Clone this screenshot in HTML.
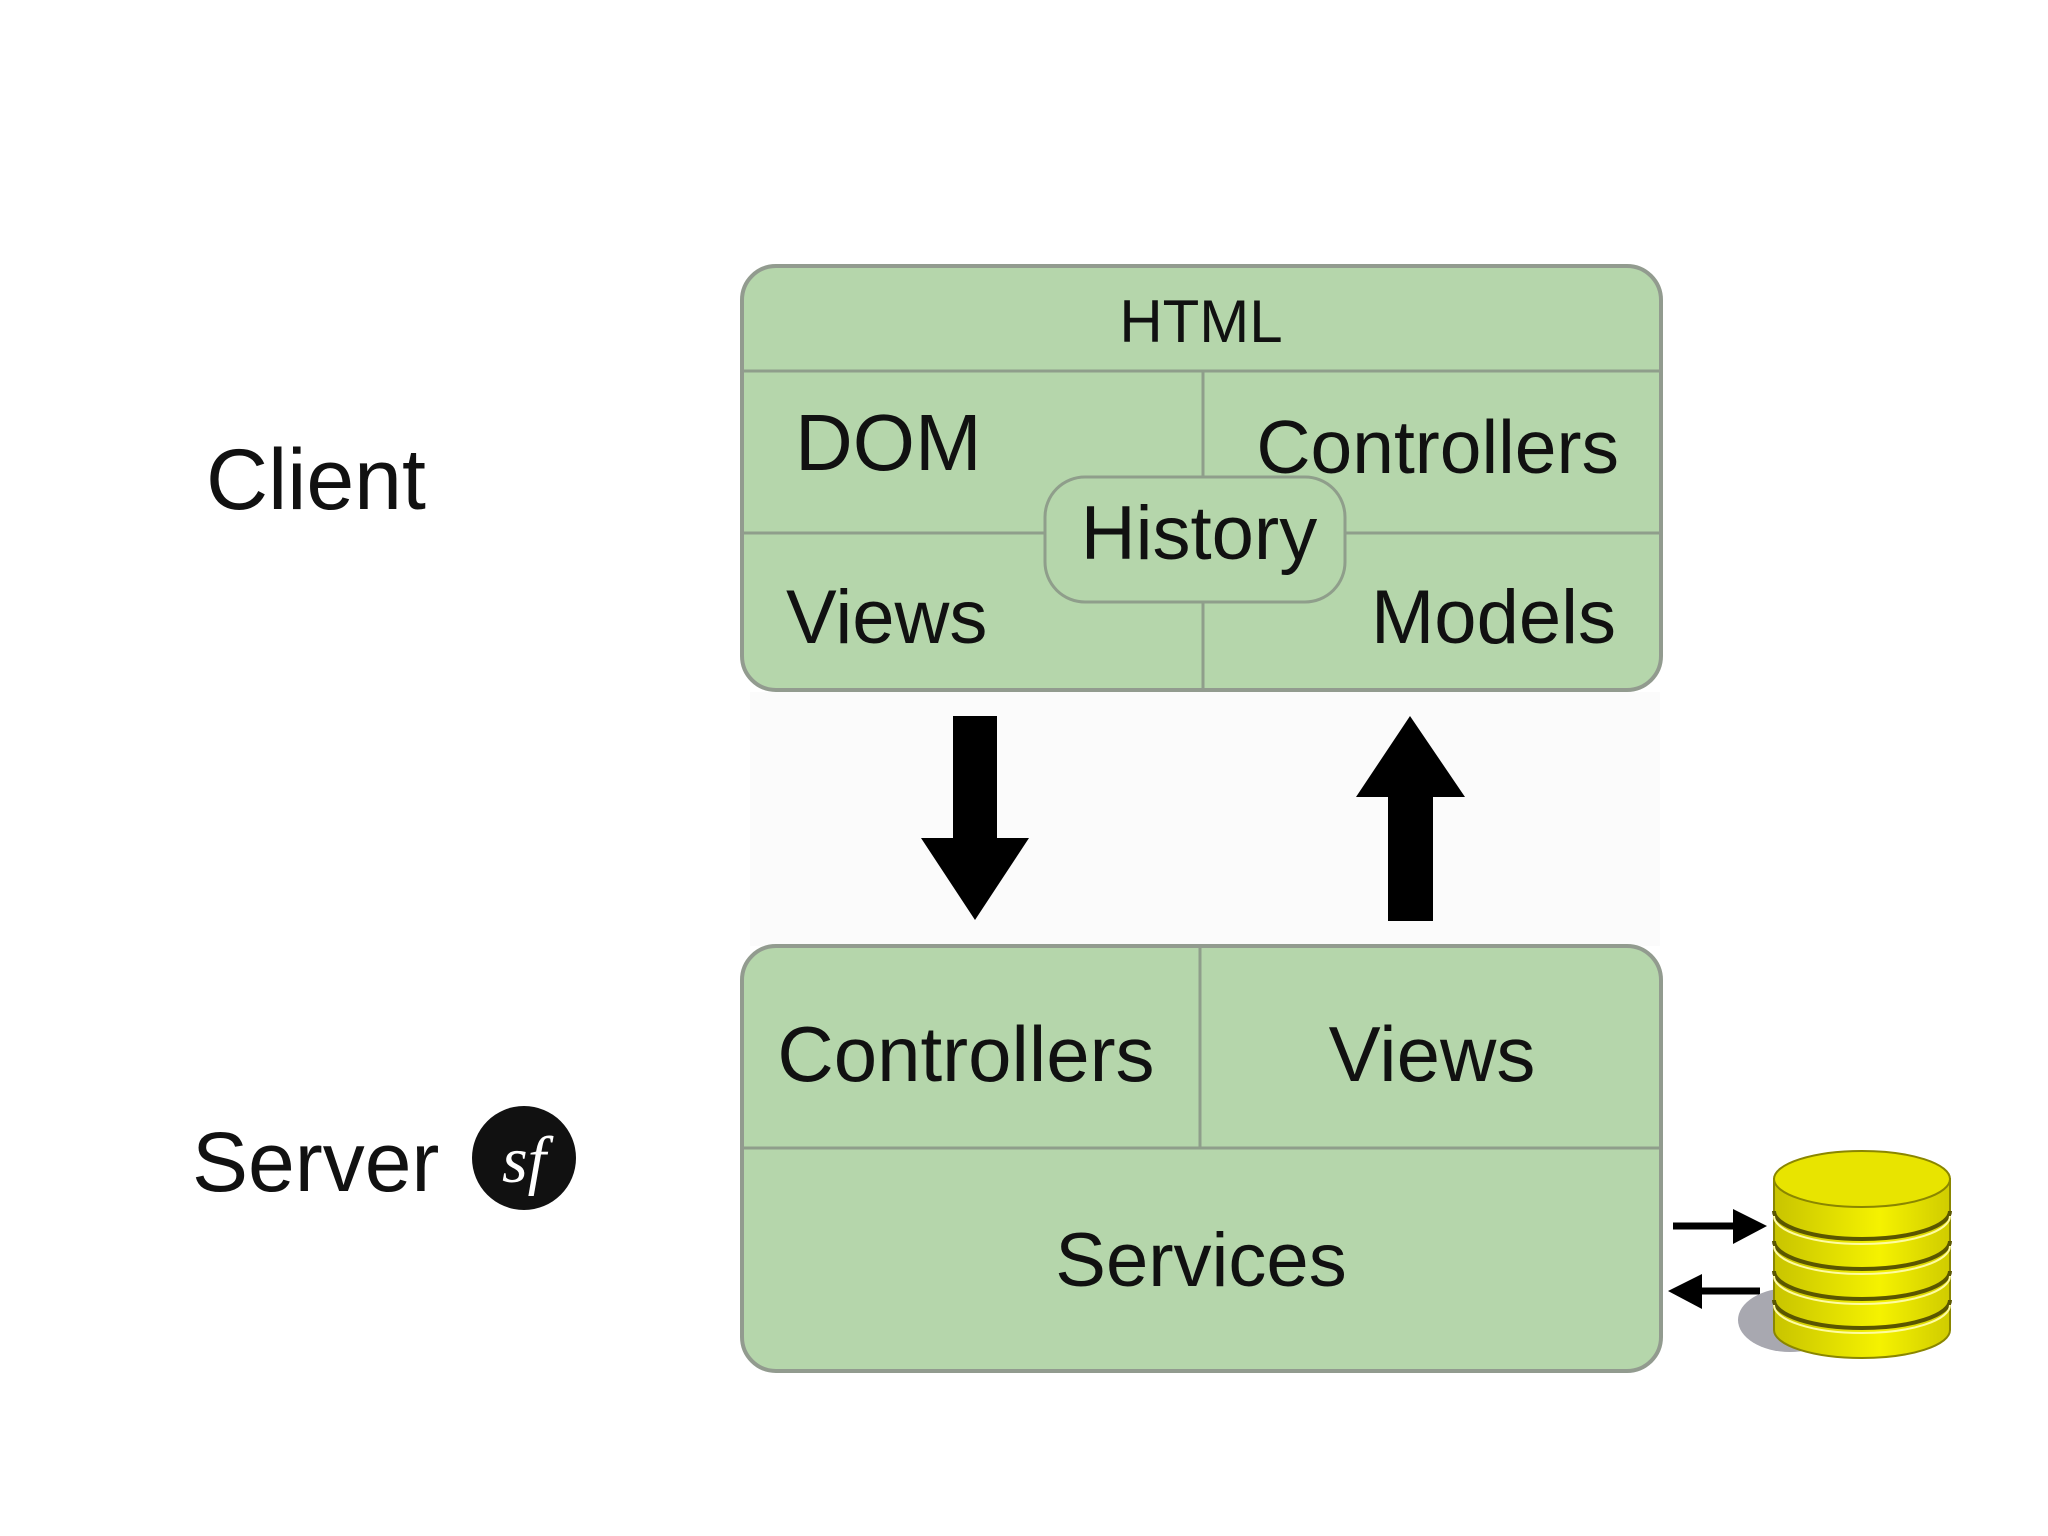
<!DOCTYPE html>
<html><head><meta charset="utf-8"><style>
html,body{margin:0;padding:0;background:#fff;}
svg{display:block;}
text{font-family:"Liberation Sans",sans-serif;fill:#111;}
</style></head><body>
<svg width="2048" height="1536" viewBox="0 0 2048 1536" xmlns="http://www.w3.org/2000/svg">
<defs>
<linearGradient id="yg" x1="0" x2="1" y1="0" y2="0">
<stop offset="0" stop-color="#c8c400"/><stop offset="0.6" stop-color="#f5f200"/><stop offset="1" stop-color="#d0cc00"/>
</linearGradient>
</defs>
<rect width="2048" height="1536" fill="#fff"/>
<rect x="750" y="692" width="910" height="254" fill="#fbfbfb"/>
<text x="206" y="509" font-size="86">Client</text>
<text x="192" y="1191" font-size="84">Server</text>
<circle cx="524" cy="1158" r="52" fill="#111"/>
<text x="524" y="1182" font-size="66" font-style="italic" text-anchor="middle" style="fill:#fff;font-family:'Liberation Serif',serif">sf</text>

<rect x="742" y="266" width="919" height="424" rx="34" fill="#b5d6ab" stroke="#929b8f" stroke-width="4"/>
<line x1="744" y1="371" x2="1659" y2="371" stroke="#8f9e8b" stroke-width="3"/>
<line x1="1203" y1="371" x2="1203" y2="688" stroke="#8f9e8b" stroke-width="3"/>
<line x1="744" y1="533" x2="1659" y2="533" stroke="#8f9e8b" stroke-width="3"/>
<rect x="1045" y="477" width="300" height="125" rx="40" fill="#b5d6ab" stroke="#8f9e8b" stroke-width="3"/>
<text x="1201" y="342" font-size="60" text-anchor="middle">HTML</text>
<text x="795" y="470" font-size="80">DOM</text>
<text x="1619" y="473" font-size="75" text-anchor="end">Controllers</text>
<text x="1199" y="559" font-size="76" text-anchor="middle">History</text>
<text x="786" y="643" font-size="76">Views</text>
<text x="1616" y="643" font-size="76" text-anchor="end">Models</text>

<polygon points="953,716 997,716 997,838 1029,838 975,920 921,838 953,838" fill="#000"/>
<polygon points="1410,716 1465,797 1433,797 1433,921 1388,921 1388,797 1356,797" fill="#000"/>

<rect x="742" y="946" width="919" height="425" rx="34" fill="#b5d6ab" stroke="#929b8f" stroke-width="4"/>
<line x1="744" y1="1148" x2="1659" y2="1148" stroke="#8f9e8b" stroke-width="3"/>
<line x1="1200" y1="948" x2="1200" y2="1148" stroke="#8f9e8b" stroke-width="3"/>
<text x="966" y="1081" font-size="78" text-anchor="middle">Controllers</text>
<text x="1432" y="1081" font-size="78" text-anchor="middle">Views</text>
<text x="1201" y="1286" font-size="76" text-anchor="middle">Services</text>

<line x1="1673" y1="1226" x2="1740" y2="1226" stroke="#000" stroke-width="7"/>
<polygon points="1733,1209 1767,1226 1733,1244" fill="#000"/>
<line x1="1695" y1="1291" x2="1760" y2="1291" stroke="#000" stroke-width="7"/>
<polygon points="1702,1274 1668,1291 1702,1309" fill="#000"/>

<ellipse cx="1790" cy="1320" rx="52" ry="32" fill="#a8a8b0"/>
<path d="M1774,1179 L1774,1330 A88,28 0 0 0 1950,1330 L1950,1179 Z" fill="url(#yg)" stroke="#8a8600" stroke-width="2"/>
<g fill="none" stroke="#5a5600" stroke-width="4">
<path d="M1774,1211 A88,28 0 0 0 1950,1211"/>
<path d="M1774,1241 A88,28 0 0 0 1950,1241"/>
<path d="M1774,1271 A88,28 0 0 0 1950,1271"/>
<path d="M1774,1300 A88,28 0 0 0 1950,1300"/>
</g>
<g fill="none" stroke="#fffca0" stroke-width="2">
<path d="M1774,1216 A88,28 0 0 0 1950,1216"/>
<path d="M1774,1246 A88,28 0 0 0 1950,1246"/>
<path d="M1774,1276 A88,28 0 0 0 1950,1276"/>
<path d="M1774,1305 A88,28 0 0 0 1950,1305"/>
</g>
<ellipse cx="1862" cy="1179" rx="88" ry="28" fill="#e8e400" stroke="#8a8600" stroke-width="2"/>
</svg>
</body></html>
